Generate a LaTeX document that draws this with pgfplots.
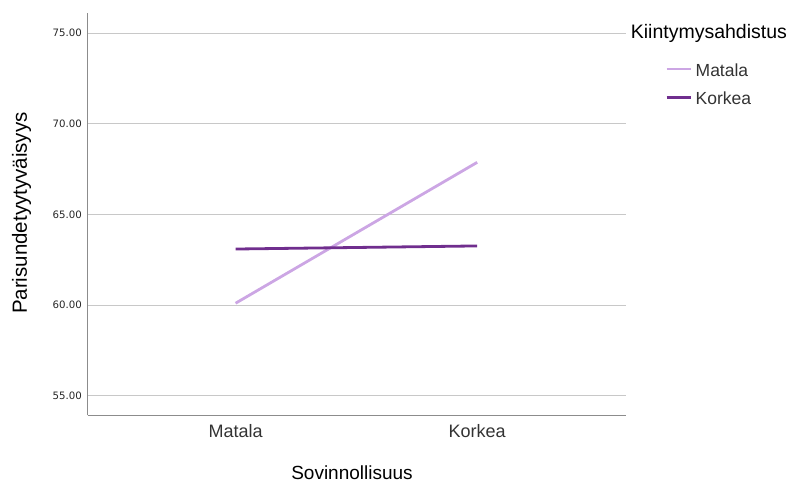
\documentclass[border=0pt]{standalone}
\usepackage{fontspec}
\setmainfont{Liberation Sans}
\newfontfamily\dejavu{DejaVu Sans}
\usepackage{pgfplots}
\pgfplotsset{compat=1.18}
\definecolor{lightpurple}{RGB}{204,166,228}
\definecolor{darkpurple}{RGB}{112,46,142}
\definecolor{gridgray}{RGB}{200,200,200}
\definecolor{axisgray}{RGB}{140,140,140}
\begin{document}
\begin{tikzpicture}
\path[use as bounding box] (0,0) rectangle (796bp,484bp);
\begin{axis}[
  at={(87.7bp,68.7bp)}, anchor=south west,
  scale only axis, width=538.3bp, height=402bp,
  xmin=-0.612, xmax=1.616, ymin=53.92, ymax=76.09,
  axis x line*=bottom, axis y line*=left,
  axis line style={-, draw=axisgray, line width=0.9bp},
  major tick length=0pt,
  xtick={0,1}, xticklabels={Matala,Korkea},
  ytick={55,60,65,70,75},
  yticklabel={\pgfmathprintnumber[fixed,fixed zerofill,precision=2]{\tick}},
  /pgf/number format/assume math mode=true,
  xticklabel style={font=\fontsize{18bp}{21bp}\selectfont, anchor=base, yshift=-22bp, inner sep=0pt, text=black!80},
  yticklabel style={font=\dejavu\fontsize{10.2bp}{12bp}\selectfont, anchor=east, inner sep=0pt, xshift=-5.7bp, text=black!85},
  ymajorgrids, grid style={gridgray, line width=0.9bp},
  xlabel={Sovinnollisuus}, ylabel={Parisundetyytyväisyys},
  xlabel style={font=\fontsize{19bp}{23bp}\selectfont, at={(axis description cs:0.491,-0.1585)}, anchor=base, inner sep=0pt},
  ylabel style={font=\fontsize{20.5bp}{24bp}\selectfont, at={(axis description cs:-0.1128,0.503)}, anchor=base, inner sep=0pt, rotate=0},
  legend cell align=left,
  legend image code/.code={\draw[#1] (0bp,1bp) -- (24bp,1bp);},
  legend style={at={(axis description cs:1.0724,0.875)}, anchor=north west, draw=none, fill=none, inner sep=0pt, row sep=15.8bp, column sep=3.7bp,
    font=\fontsize{17.5bp}{21bp}\selectfont,
    nodes={inner sep=0pt, text height=12.5bp, text depth=0pt, text=black!80}},
  clip=false,
]
\addplot[lightpurple, line width=2.8bp] coordinates {(0,60.10) (1,67.87)};
\addlegendentry{Matala}
\addplot[darkpurple, line width=2.8bp] coordinates {(0,63.09) (1,63.26)};
\addlegendentry{Korkea}
\node[anchor=base west, inner sep=0pt, font=\fontsize{19.5bp}{23bp}\selectfont] at (axis description cs:1.0087,0.9361) {Kiintymysahdistus};
\end{axis}
\end{tikzpicture}
\end{document}
